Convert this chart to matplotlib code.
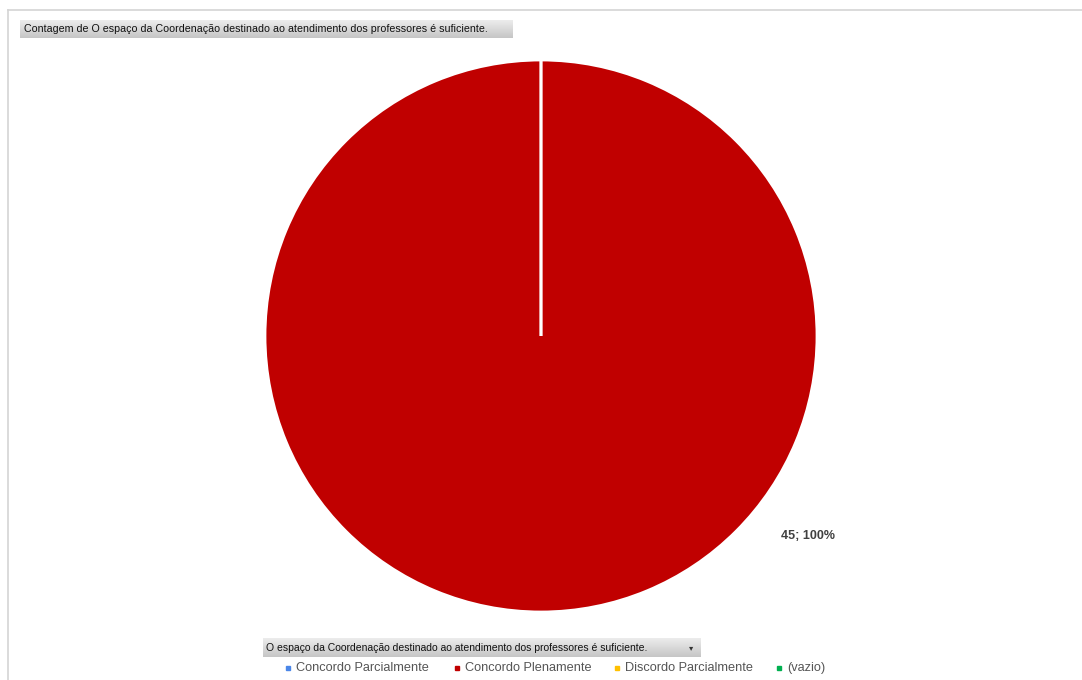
import matplotlib.pyplot as plt
import numpy as np
from matplotlib.patches import Rectangle
from matplotlib.colors import LinearSegmentedColormap

categories = ['Concordo Parcialmente', 'Concordo Plenamente', 'Discordo Parcialmente', '(vazio)']
counts = [0, 45, 0, 0]
colors = ['#4A86E8', '#C00000', '#FFC000', '#00B050']
title = 'Contagem de O espaço da Coordenação destinado ao atendimento dos professores é suficiente.'
field = 'O espaço da Coordenação destinado ao atendimento dos professores é suficiente.'

W, H = 1082, 680
fig = plt.figure(figsize=(W / 100, H / 100), dpi=100)
fig.patch.set_facecolor('white')

# background layer in pixel coords
bg = fig.add_axes([0, 0, 1, 1])
bg.set_xlim(0, W)
bg.set_ylim(H, 0)
bg.axis('off')

# outer frame lines
bg.plot([8, W], [10, 10], color='#d4d4d4', lw=1.2)
bg.plot([8, 8], [10, H], color='#d4d4d4', lw=1.2)

btn_cmap = LinearSegmentedColormap.from_list('btn', ['#ececec', '#c6c6c6'])


def button(x0, y0, x1, y1):
    grad = np.linspace(0, 1, 20).reshape(-1, 1)
    bg.imshow(grad, extent=(x0, x1, y1, y0), cmap=btn_cmap, aspect='auto', zorder=1)


button(20, 20, 513, 38)
bg.text(24, 29.5, title, fontsize=7.65, family='Liberation Sans', va='center', color='#111111', zorder=3)

button(263, 638, 701, 657)
bg.text(266, 648, field, fontsize=7.5, family='Liberation Sans', va='center', color='#111111', zorder=3)
bg.text(691, 648, '▾', fontsize=6, va='center', ha='center', color='#333333', zorder=3)
bg.set_xlim(0, W)
bg.set_ylim(H, 0)

# legend
lx = [286, 455, 615, 777]
for x, cat, c in zip(lx, categories, colors):
    bg.add_patch(Rectangle((x, 666), 3.5, 3.5, color=c, zorder=3))
    bg.text(x + 10, 668, cat, fontsize=9.2, family='Liberation Sans', va='center',
            color='#555555', zorder=3)

# pie
r = 276
cx, cy = 541, 336
ax = fig.add_axes([(cx - r) / W, 1 - (cy + r) / H, 2 * r / W, 2 * r / H])
wedges, _ = ax.pie(counts, colors=colors, startangle=90, counterclock=False,
                   wedgeprops=dict(edgecolor='white', linewidth=2))
ax.set_aspect('equal')
ax.set_xlim(-1, 1)
ax.set_ylim(-1, 1)
total = sum(counts)
for v in counts:
    if v > 0:
        ax.text(0.967, -0.724, f'{v}; {v / total:.0%}', fontsize=9, fontweight='bold',
                family='Liberation Sans', color='#404040', ha='center', va='center')

fig.savefig('out.png', dpi=100)
